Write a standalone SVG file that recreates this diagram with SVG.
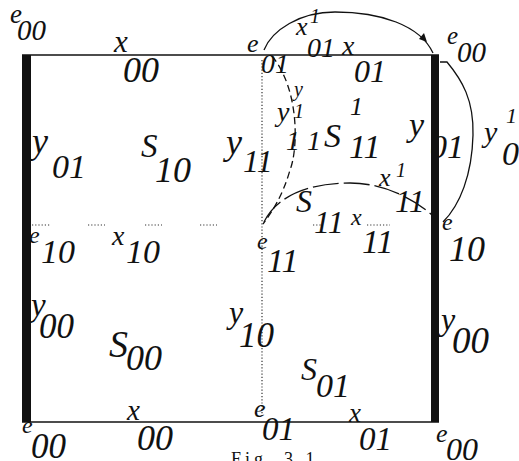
<svg xmlns="http://www.w3.org/2000/svg" width="519" height="461" viewBox="0 0 519 461">
<style>
.t{font-family:"Liberation Serif","Times New Roman",serif;font-style:italic;fill:#111}
.c{fill:none;stroke:#111;stroke-width:1.3}
.dash{stroke-dasharray:7 4}
.ldash{stroke-dasharray:26 5}
.dot{fill:none;stroke:#333;stroke-width:1.2;stroke-dasharray:1.2 2}
</style>
<rect width="519" height="461" fill="#fff"/>
<g id="frame">
<line x1="22" y1="55" x2="439" y2="55" stroke="#111" stroke-width="1.6"/>
<line x1="22" y1="422" x2="439" y2="422" stroke="#111" stroke-width="1.6"/>
<rect x="22" y="55" width="9" height="367" fill="#111"/>
<rect x="431" y="55" width="8" height="367" fill="#111"/>
<line class="dot" x1="262" y1="60" x2="262" y2="416"/>
<g id="dotted-row">
<line class="dot" x1="32" y1="225" x2="50" y2="225"/>
<line class="dot" x1="88" y1="225" x2="105" y2="225"/>
<line class="dot" x1="145" y1="225" x2="162" y2="225"/>
<line class="dot" x1="200" y1="225" x2="217" y2="225"/>
<line class="dot" x1="313" y1="225" x2="323" y2="225"/>
<line class="dot" x1="367" y1="225" x2="390" y2="225"/>
</g>
</g>
<g id="connectors">
<path id="arc-x1-01" class="c" d="M264 50 C272 30 300 12 335 12 C380 12 420 25 433 53"/>
<path d="M427 42 L419 39 L424 33 Z" fill="#111"/>
<path id="arc-y1-01" class="c" d="M440 62 L447 62 C462 80 474 100 473 135 C472 175 460 205 443 222"/>
<path id="arc-y1-11" class="c dash" d="M272 56 C300 90 298 150 290 170 C283 195 272 212 263 224"/>
<path id="arc-x1-11" class="c ldash" d="M264 222 C280 190 320 183 350 183 C385 183 415 200 432 215"/>
</g>
<g id="labels">
<g id="e00-tl"><text class="t" x="10" y="23" font-size="27">e</text><text class="t" x="17" y="40" font-size="29">00</text></g>
<g id="x00-top"><text class="t" x="114" y="52" font-size="31">x</text><text class="t" x="123" y="82" font-size="36">00</text></g>
<g id="e01-top"><text class="t" x="247" y="52" font-size="26">e</text><text class="t" x="261" y="73" font-size="28">01</text></g>
<g id="x1-01"><text class="t" x="296" y="35" font-size="26">x</text><text class="t" x="310" y="23" font-size="20">1</text><text class="t" x="307" y="57" font-size="28">01</text></g>
<g id="x01-top"><text class="t" x="342" y="55" font-size="28">x</text><text class="t" x="354" y="82" font-size="32">01</text></g>
<g id="e00-tr"><text class="t" x="447" y="44" font-size="25">e</text><text class="t" x="457" y="62" font-size="29">00</text></g>
<g id="y01-left"><text class="t" x="32" y="153" font-size="36">y</text><text class="t" x="52" y="178" font-size="34">01</text></g>
<g id="s10"><text class="t" x="141" y="157" font-size="33">S</text><text class="t" x="155" y="182" font-size="36">10</text></g>
<g id="y11"><text class="t" x="226" y="154" font-size="36">y</text><text class="t" x="243" y="172" font-size="32">11</text></g>
<g id="y1-11"><text class="t" x="294" y="96" font-size="20">y</text><text class="t" x="277" y="121" font-size="28">y</text><text class="t" x="294" y="118" font-size="20">1</text><text class="t" x="286" y="150" font-size="28">1 1</text></g>
<g id="s1-11"><text class="t" x="324" y="147" font-size="34">S</text><text class="t" x="350" y="115" font-size="26">1</text><text class="t" x="349" y="158" font-size="34">11</text></g>
<g id="y01-right"><text class="t" x="409" y="136" font-size="34">y</text><text class="t" x="430" y="158" font-size="34">01</text></g>
<g id="y1-01"><text class="t" x="484" y="142" font-size="30">y</text><text class="t" x="506" y="123" font-size="22">1</text><text class="t" x="502" y="165" font-size="34">01</text></g>
<g id="x1-11"><text class="t" x="379" y="186" font-size="26">x</text><text class="t" x="396" y="177" font-size="20">1</text><text class="t" x="395" y="212" font-size="32">11</text></g>
<g id="s11"><text class="t" x="296" y="212" font-size="32">S</text><text class="t" x="314" y="233" font-size="32">11</text></g>
<g id="x11"><text class="t" x="351" y="225" font-size="24">x</text><text class="t" x="362" y="253" font-size="34">11</text></g>
<g id="e10-left"><text class="t" x="29" y="243" font-size="24">e</text><text class="t" x="41" y="263" font-size="34">10</text></g>
<g id="x10"><text class="t" x="112" y="245" font-size="28">x</text><text class="t" x="126" y="263" font-size="34">10</text></g>
<g id="e11"><text class="t" x="257" y="249" font-size="24">e</text><text class="t" x="267" y="272" font-size="34">11</text></g>
<g id="e10-right"><text class="t" x="442" y="230" font-size="24">e</text><text class="t" x="449" y="261" font-size="36">10</text></g>
<g id="y00-left"><text class="t" x="31" y="316" font-size="33">y</text><text class="t" x="39" y="338" font-size="35">00</text></g>
<g id="s00"><text class="t" x="109" y="357" font-size="38">S</text><text class="t" x="126" y="370" font-size="36">00</text></g>
<g id="y10"><text class="t" x="229" y="323" font-size="32">y</text><text class="t" x="239" y="347" font-size="35">10</text></g>
<g id="s01"><text class="t" x="301" y="380" font-size="32">S</text><text class="t" x="316" y="397" font-size="34">01</text></g>
<g id="y00-right"><text class="t" x="441" y="330" font-size="32">y</text><text class="t" x="452" y="353" font-size="37">00</text></g>
<g id="x00-bottom"><text class="t" x="127" y="420" font-size="29">x</text><text class="t" x="137" y="450" font-size="36">00</text></g>
<g id="e00-bl"><text class="t" x="22" y="433" font-size="24">e</text><text class="t" x="31" y="458" font-size="35">00</text></g>
<g id="e01-bottom"><text class="t" x="254" y="417" font-size="26">e</text><text class="t" x="262" y="440" font-size="33">01</text></g>
<g id="x01-bottom"><text class="t" x="349" y="422" font-size="27">x</text><text class="t" x="359" y="450" font-size="33">01</text></g>
<g id="e00-br"><text class="t" x="436" y="442" font-size="26">e</text><text class="t" x="446" y="460" font-size="32">00</text></g>
<text id="caption" x="231" y="465" font-family="Liberation Serif, serif" font-size="18" letter-spacing="4" fill="#111">Fig. 3.1</text>
</g>
</svg>
